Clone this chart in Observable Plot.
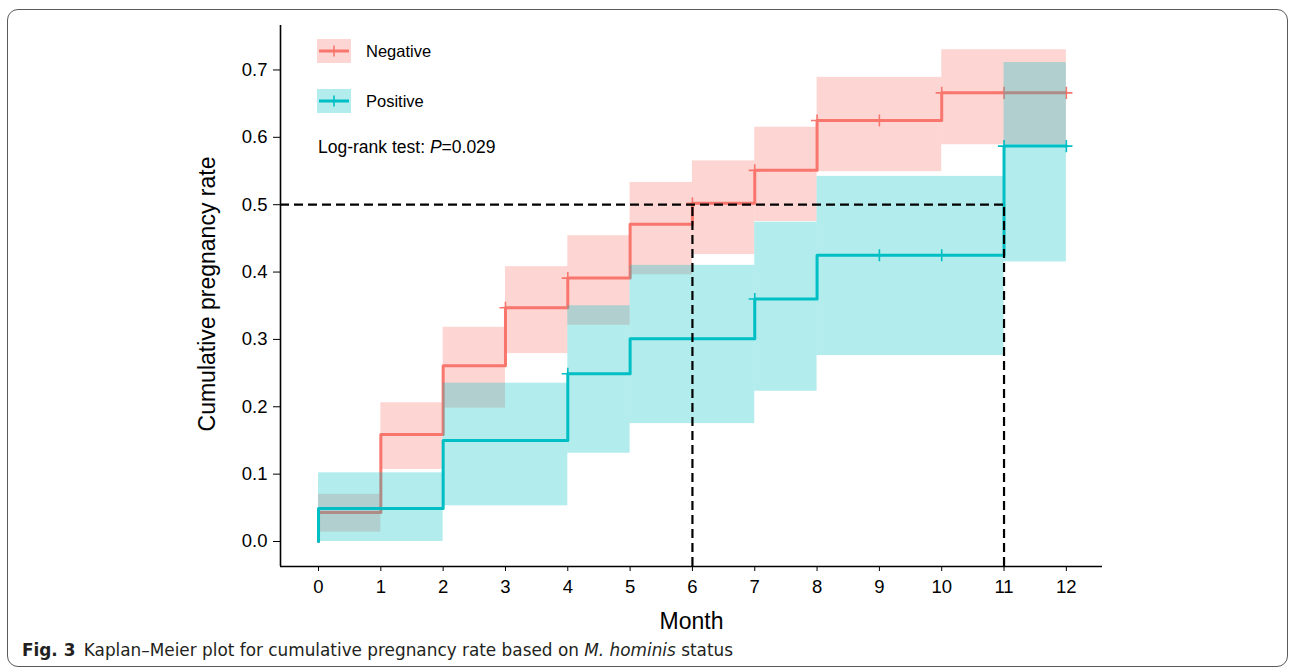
<!DOCTYPE html>
<html><head><meta charset="utf-8">
<script src="https://cdn.jsdelivr.net/npm/d3@7"></script>
<script src="https://cdn.jsdelivr.net/npm/@observablehq/plot@0.6"></script>
<style>
html,body{margin:0;padding:0;background:#fff;}
#wrap{position:relative;width:1289px;height:668px;overflow:hidden;font-family:"Liberation Sans",Arial,sans-serif;}
#frame{position:absolute;left:7px;top:9px;width:1281px;height:658px;border:1.3px solid #5a5a5a;border-radius:11px;box-sizing:border-box;}
#chart{position:absolute;left:0;top:0;}
#overlay{position:absolute;left:0;top:0;}
</style></head><body>
<div id="wrap"><div id="frame"></div><div id="chart"></div><svg id="overlay" width="1289" height="668"></svg></div>
<script>
// ---- data ----
const groups = ["Negative", "Positive"];
const groupColors = ["#F8766D", "#00BFC4"];

const negTime  = [0, 1, 2, 3, 4, 5, 6, 7, 8, 10, 12];
const negRate  = [0.043, 0.159, 0.261, 0.347, 0.391, 0.471, 0.502, 0.551, 0.625, 0.666, 0.666];
const negLower = [0.014, 0.107, 0.198, 0.279, 0.321, 0.396, 0.426, 0.475, 0.549, 0.589, 0.589];
const negUpper = [0.070, 0.206, 0.318, 0.408, 0.454, 0.533, 0.565, 0.615, 0.689, 0.730, 0.730];
const negCensor = [3, 4, 6, 7, 8, 9, 10, 11, 12];

const posTime  = [0, 2, 4, 5, 7, 8, 11, 12];
const posRate  = [0.049, 0.150, 0.249, 0.301, 0.360, 0.425, 0.587, 0.587];
const posLower = [0.000, 0.053, 0.131, 0.175, 0.223, 0.276, 0.415, 0.415];
const posUpper = [0.102, 0.235, 0.350, 0.410, 0.474, 0.542, 0.711, 0.711];
const posCensor = [4, 7, 9, 10, 11, 12];

const medianTimes = [6, 11];
const medianLevel = 0.5;

const monthTicks = [0,1,2,3,4,5,6,7,8,9,10,11,12];
const rateTicks = [0, 0.1, 0.2, 0.3, 0.4, 0.5, 0.6, 0.7];

const xLabel = "Month";
const yLabel = "Cumulative pregnancy rate";
const pText = "0.029";

// ---- build tables ----
function build(time, rate, lower, upper, censor) {
  const pts = time.map((t, i) => ({t, rate: rate[i], lo: lower[i], hi: upper[i]}));
  const steps = [{t: time[0], rate: 0}, ...pts];
  const bands = pts.slice(0, -1).map((d, i) => ({x1: d.t, x2: pts[i + 1].t, y1: d.lo, y2: d.hi}));
  const cens = censor.map(t => ({t, rate: rate[d3.bisectRight(time, t) - 1]}));
  return {steps, bands, cens};
}
const neg = build(negTime, negRate, negLower, negUpper, negCensor);
const pos = build(posTime, posRate, posLower, posUpper, posCensor);

const xMin = -0.61, xMax = 12.58, yMin = -0.0371, yMax = 0.766;

function groupMarks(g, color) {
  return [
    Plot.rect(g.bands, {x1: "x1", x2: "x2", y1: "y1", y2: "y2", fill: color, fillOpacity: 0.3}),
    Plot.line(g.steps, {x: "t", y: "rate", curve: "step-after", stroke: color, strokeWidth: 3}),
    Plot.dot(g.cens, {x: "t", y: "rate", symbol: "plus", r: 4, stroke: color, strokeWidth: 1.6})
  ];
}

const chart = Plot.plot({
  width: 1289, height: 668,
  marginLeft: 280, marginRight: 187, marginTop: 25, marginBottom: 102,
  x: {domain: [xMin, xMax]},
  y: {domain: [yMin, yMax]},
  style: {fontFamily: "Liberation Sans, Arial, sans-serif", color: "#000", background: "transparent", overflow: "visible"},
  marks: [
    ...groupMarks(neg, groupColors[0]),
    ...groupMarks(pos, groupColors[1]),
    Plot.ruleY([medianLevel], {x1: xMin, x2: d3.max(medianTimes), stroke: "#000", strokeWidth: 2.2, strokeDasharray: "9,5"}),
    Plot.ruleX(medianTimes, {y1: yMin, y2: medianLevel, stroke: "#000", strokeWidth: 2.2, strokeDasharray: "9,5"}),
    Plot.ruleX([xMin], {stroke: "#000", strokeWidth: 1.6}),
    Plot.ruleY([yMin], {stroke: "#000", strokeWidth: 1.6}),
    Plot.axisX({ticks: monthTicks, tickFormat: d3.format("d"), tickSize: 5, tickPadding: 8, fontSize: 18.5, label: null}),
    Plot.axisY({ticks: rateTicks, tickFormat: d3.format(".1f"), tickSize: 7, tickPadding: 6, fontSize: 18.5, label: null}),
    Plot.text([xLabel], {frameAnchor: "bottom", lineAnchor: "middle", textAnchor: "middle", dy: 55, fontSize: 23, text: d => d}),
    Plot.text([yLabel], {frameAnchor: "left", lineAnchor: "middle", textAnchor: "middle", rotate: -90, dx: -73, dy: -2, fontSize: 23, text: d => d})
  ]
});
document.getElementById("chart").appendChild(chart);

// ---- legend + annotation + caption overlay ----
const ov = d3.select("#overlay");
groups.forEach((name, i) => {
  const cy = 51 + i * 50;
  const g = ov.append("g");
  g.append("rect").attr("x", 317).attr("y", cy - 12).attr("width", 34).attr("height", 24)
    .attr("fill", groupColors[i]).attr("fill-opacity", 0.3);
  g.append("line").attr("x1", 319).attr("x2", 349).attr("y1", cy).attr("y2", cy)
    .attr("stroke", groupColors[i]).attr("stroke-width", 3);
  g.append("line").attr("x1", 334).attr("x2", 334).attr("y1", cy - 5.5).attr("y2", cy + 5.5)
    .attr("stroke", groupColors[i]).attr("stroke-width", 1.6);
  g.append("text").attr("x", 366).attr("y", cy + 6).attr("font-size", 16.5)
    .attr("font-family", "Liberation Sans, Arial, sans-serif").attr("fill", "#000").text(name);
});
const lr = ov.append("text").attr("x", 318).attr("y", 152.5).attr("font-size", 17.5)
  .attr("font-family", "Liberation Sans, Arial, sans-serif").attr("fill", "#000");
lr.append("tspan").text("Log-rank test: ");
lr.append("tspan").attr("font-style", "italic").text("P");
lr.append("tspan").text("=" + pText);

const cap = ov.append("text").attr("x", 22).attr("y", 656).attr("font-size", 17.5)
  .attr("font-family", "Liberation Sans Narrow, DejaVu Sans Condensed, Liberation Sans, sans-serif")
  .attr("fill", "#231f20").attr("textLength", 711).attr("lengthAdjust", "spacingAndGlyphs");
cap.append("tspan").attr("font-weight", "bold").text("Fig. 3");
cap.append("tspan").text("\u2002Kaplan\u2013Meier plot for cumulative pregnancy rate based on ");
cap.append("tspan").attr("font-style", "italic").text("M. hominis");
cap.append("tspan").text(" status");
</script>
</body></html>
